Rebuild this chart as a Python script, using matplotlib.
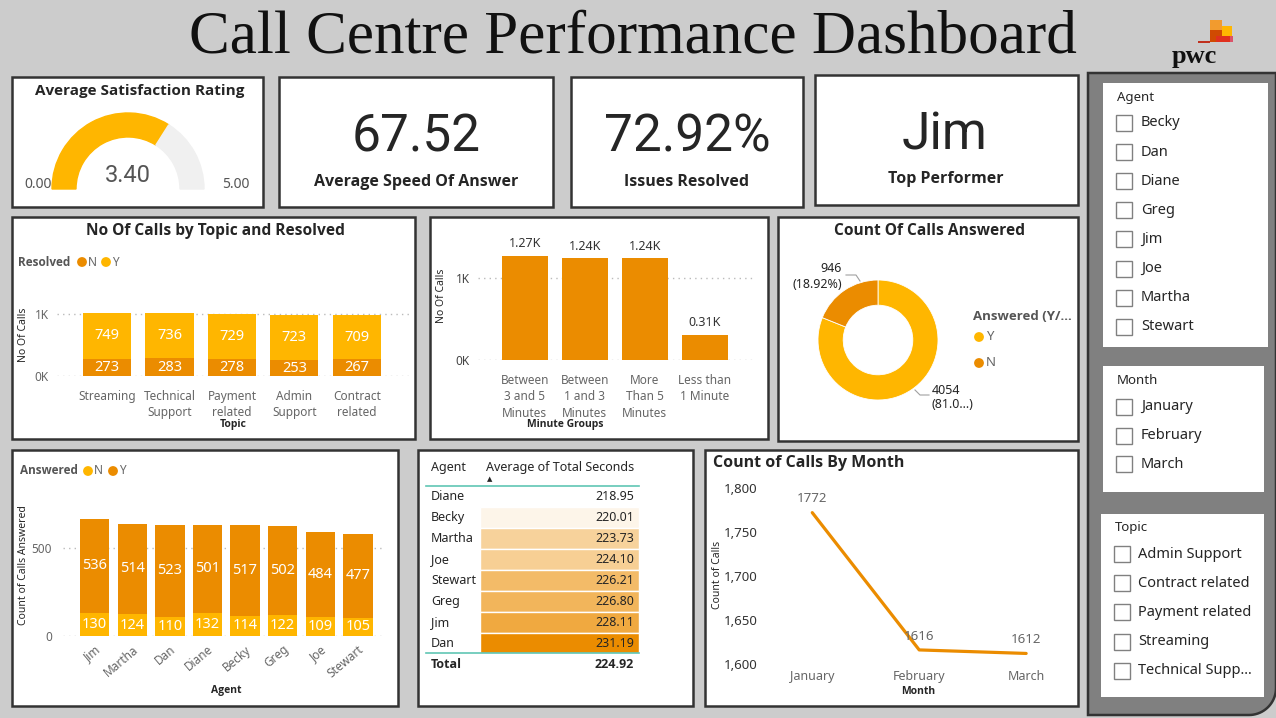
import numpy as np
import matplotlib.pyplot as plt
import matplotlib.font_manager as fm
from matplotlib.patches import Rectangle, Wedge, Polygon

W, H = 1276, 718
plt.rcParams['font.family'] = ['Noto Sans', 'DejaVu Sans']


def bold_family():
    # pick the first sans family that really ships a bold face
    for name in ['Noto Sans', 'Open Sans', 'Lato', 'Roboto', 'Liberation Sans']:
        for f in fm.fontManager.ttflist:
            w = f.weight if isinstance(f.weight, int) else fm.weight_dict.get(f.weight, 400)
            if f.name == name and w >= 600:
                return name
    return 'DejaVu Sans'


BOLD = bold_family()

YELLOW = '#FFB600'
ORANGE = '#EB8C00'
DARK = '#252525'
GREY = '#666666'

# ---- data ----
rating, rating_max = 3.40, 5.00
speed_answer = 67.52
resolved_pct = 72.92
top_performer = 'Jim'

topics = ['Streaming', 'Technical\nSupport', 'Payment\nrelated', 'Admin\nSupport', 'Contract\nrelated']
topic_n = [273, 283, 278, 253, 267]
topic_y = [749, 736, 729, 723, 709]

minute_groups = ['Between\n3 and 5\nMinutes', 'Between\n1 and 3\nMinutes',
                 'More\nThan 5\nMinutes', 'Less than\n1 Minute']
minute_calls = [1270, 1240, 1240, 310]

answered_counts = [4054, 946]   # Y, N

agents = ['Jim', 'Martha', 'Dan', 'Diane', 'Becky', 'Greg', 'Joe', 'Stewart']
agent_n = [130, 124, 110, 132, 114, 122, 109, 105]
agent_y = [536, 514, 523, 501, 517, 502, 484, 477]

table_agents = ['Diane', 'Becky', 'Martha', 'Joe', 'Stewart', 'Greg', 'Jim', 'Dan']
table_secs = [218.95, 220.01, 223.73, 224.10, 226.21, 226.80, 228.11, 231.19]
table_total = 224.92

months = ['January', 'February', 'March']
month_calls = [1772, 1616, 1612]

slicer_agents = ['Becky', 'Dan', 'Diane', 'Greg', 'Jim', 'Joe', 'Martha', 'Stewart']
slicer_months = ['January', 'February', 'March']
slicer_topics = ['Admin Support', 'Contract related', 'Payment related', 'Streaming', 'Technical Supp...']

fig = plt.figure(figsize=(W / 100, H / 100), dpi=100)
fig.patch.set_facecolor('#CCCCCC')


def px_axes(x0, y0, x1, y1):
    # axes placed by pixel box (y measured from the top)
    ax = fig.add_axes([x0 / W, 1 - y1 / H, (x1 - x0) / W, (y1 - y0) / H])
    ax.set_facecolor('none')
    return ax


def pixel_space(ax):
    ax.set_xlim(0, W)
    ax.set_ylim(H, 0)
    ax.axis('off')


bg = px_axes(0, 0, W, H)
pixel_space(bg)


def panel(x0, y0, x1, y1):
    bg.add_patch(Rectangle((x0, y0), x1 - x0, y1 - y0, facecolor='white',
                           edgecolor='#333333', lw=1.8))


for box in [(12, 77, 263, 207), (279, 77, 553, 207), (571, 77, 803, 207), (815, 75, 1078, 205),
            (12, 217, 415, 439), (430, 217, 768, 439), (778, 217, 1078, 441),
            (12, 450, 398, 706), (418, 450, 693, 706), (705, 450, 1078, 706)]:
    panel(*box)

# right filter pane with rounded bottom-right corner
r = 27
t = np.linspace(0, np.pi / 2, 20)
corner = list(zip(1276 - r + r * np.cos(t), 688 + r * np.sin(t)))
bg.add_patch(Polygon([(1088, 73), (1276, 73)] + corner + [(1088, 715)], closed=True,
                     facecolor='#808080', edgecolor='#333333', lw=1.8))
for x0, y0, x1, y1 in [(1103, 83, 1268, 347), (1103, 366, 1264, 492), (1101, 514, 1264, 697)]:
    bg.add_patch(Rectangle((x0, y0), x1 - x0, y1 - y0, facecolor='white', edgecolor='none'))

# pwc logo blocks
for (x0, y0, w, h, c) in [(1210, 20, 12, 10, '#F29B2E'), (1210, 30, 14, 12, '#D04A02'),
                          (1222, 26, 10, 10, '#FFB600'), (1216, 36, 14, 6, '#E0301E'),
                          (1230, 36, 3, 6, '#DB536A'), (1198, 41, 12, 2, '#C0301E')]:
    bg.add_patch(Rectangle((x0, y0), w, h, facecolor=c, edgecolor='none'))

# gauge (y axis is flipped, so 180..360 is the upper half)
split = 180 + 180 * rating / rating_max
bg.add_patch(Wedge((128, 189), 76, 180, split, width=24, color=YELLOW))
bg.add_patch(Wedge((128, 189), 76, split, 360, width=24, color='#F0F0F0'))


def clean(ax):
    for s in ax.spines.values():
        s.set_visible(False)
    ax.tick_params(length=0)


# ---- No of calls by topic and resolved ----
ax = px_axes(57, 300, 410, 376)
x = np.arange(len(topics))
ax.bar(x, topic_n, 0.77, color=ORANGE, zorder=2)
ax.bar(x, topic_y, 0.77, bottom=topic_n, color=YELLOW, zorder=2)
for i in x:
    ax.text(i, topic_n[i] / 2, str(topic_n[i]), ha='center', va='center', color='white', fontsize=10.5, zorder=3)
    ax.text(i, topic_n[i] + topic_y[i] / 2, str(topic_y[i]), ha='center', va='center', color='white',
            fontsize=10.5, zorder=3)
ax.set_xlim(-0.8, 4.85)
ax.set_ylim(0, 1226)
ax.set_yticks([0, 1000], ['0K', '1K'])
ax.set_xticks(x, topics, linespacing=1.35)
ax.yaxis.grid(True, color='#BBBBBB', linestyle=(0, (1, 3)), lw=1)
clean(ax)
ax.tick_params(axis='y', pad=6, labelsize=8.5, labelcolor=GREY)
ax.tick_params(axis='x', pad=10, labelsize=8.5, labelcolor=GREY)

# ---- calls by minute groups ----
ax = px_axes(478, 245, 753, 360)
x = np.arange(len(minute_groups))
ax.bar(x, minute_calls, 0.77, color=ORANGE, zorder=2)
for i in x:
    ax.annotate(f'{minute_calls[i] / 1000:.2f}K', (i, minute_calls[i]), xytext=(0, 4),
                textcoords='offset points', ha='center', va='bottom', fontsize=9, color='#333333')
ax.set_xlim(-0.78, 3.8)
ax.set_ylim(0, 1402)
ax.set_yticks([0, 1000], ['0K', '1K'])
ax.set_xticks(x, minute_groups, linespacing=1.35)
ax.yaxis.grid(True, color='#BBBBBB', linestyle=(0, (1, 3)), lw=1)
clean(ax)
ax.tick_params(axis='y', pad=6, labelsize=8.5, labelcolor='#444444')
ax.tick_params(axis='x', pad=10, labelsize=8.5, labelcolor=GREY)

# ---- donut ----
dax = px_axes(818, 280, 938, 400)
dax.pie(answered_counts, colors=[YELLOW, ORANGE], startangle=90, counterclock=False, radius=1,
        wedgeprops=dict(width=0.42, edgecolor='white', linewidth=0.6))
dax.set_xlim(-1, 1)
dax.set_ylim(-1, 1)

# ---- calls answered by agent ----
ax = px_axes(63, 505, 385, 636)
x = np.arange(len(agents))
ax.bar(x, agent_n, 0.78, color=YELLOW, zorder=2)
ax.bar(x, agent_y, 0.78, bottom=agent_n, color=ORANGE, zorder=2)
for i in x:
    ax.text(i, agent_n[i] / 2, str(agent_n[i]), ha='center', va='center', color='white', fontsize=10.5, zorder=3)
    ax.text(i, agent_n[i] + agent_y[i] / 2, str(agent_y[i]), ha='center', va='center', color='white',
            fontsize=10.5, zorder=3)
ax.set_xlim(-0.84, 7.72)
ax.set_ylim(0, 744)
ax.set_yticks([0, 500])
ax.set_xticks(x, agents, rotation=40, ha='right', rotation_mode='anchor')
ax.yaxis.grid(True, color='#BBBBBB', linestyle=(0, (1, 3)), lw=1)
clean(ax)
ax.tick_params(axis='y', pad=8, labelsize=8.5, labelcolor=GREY)
ax.tick_params(axis='x', pad=5, labelsize=8.5, labelcolor=GREY)
for lbl in ax.get_xticklabels():
    lbl.set_x(lbl.get_position()[0])

# ---- count of calls by month ----
ax = px_axes(762, 488, 1070, 664)
xm = np.arange(len(months))
ax.plot(xm, month_calls, color=ORANGE, lw=2.3, clip_on=False, solid_capstyle='round')
for i in xm:
    ax.annotate(str(month_calls[i]), (i, month_calls[i]), xytext=(0, 10), textcoords='offset points',
                ha='center', va='center', fontsize=9.5, color=GREY)
ax.set_xlim(-0.47, 2.41)
ax.set_ylim(1600, 1800)
ax.set_yticks(range(1600, 1801, 50), [f'{v:,}' for v in range(1600, 1801, 50)])
ax.set_xticks(xm, months)
clean(ax)
ax.tick_params(axis='y', pad=3, labelsize=9.5, labelcolor='#333333')
ax.tick_params(axis='x', pad=4, labelsize=9, labelcolor=GREY)

# ---- overlay: text, legends, table, slicers ----
ov = px_axes(0, 0, W, H)
pixel_space(ov)


def txt(x, y, s, size=10, color=DARK, bold=False, ha='center', va='center', **kw):
    if bold:
        kw.setdefault('family', BOLD)
        kw['fontweight'] = 'bold'
    ov.text(x, y, s, fontsize=size, color=color, ha=ha, va=va, **kw)


def dot(x, y, c):
    ov.scatter([x], [y], s=50, color=c, edgecolors='none')


txt(633, 38, 'Call Centre Performance Dashboard', size=44, family='Liberation Serif', color='#111111')
txt(1194, 56, 'pwc', size=19, family='Liberation Serif', bold=True, color='#111111')

txt(140, 91, 'Average Satisfaction Rating', size=11, bold=True)
txt(128, 176, f'{rating:.2f}', size=17, color='#555555', family='Roboto')
txt(38, 184, '0.00', size=10, color='#555555')
txt(236, 184, f'{rating_max:.2f}', size=10, color='#555555')

txt(416, 138, f'{speed_answer:.2f}', size=37, family='Roboto')
txt(416, 182, 'Average Speed Of Answer', size=11.5, bold=True)
txt(687, 138, f'{resolved_pct:.2f}%', size=37, family='Roboto')
txt(687, 182, 'Issues Resolved', size=11.5, bold=True)
txt(945, 136, top_performer, size=37, family='Roboto')
txt(946, 179, 'Top Performer', size=11.5, bold=True)

# topic chart labels
txt(215, 231, 'No Of Calls by Topic and Resolved', size=11.2, bold=True)
txt(18, 262, 'Resolved', size=8.5, bold=True, color='#555555', ha='left')
dot(82, 262, ORANGE)
txt(88, 262, 'N', size=8.5, color=GREY, ha='left')
dot(106, 262, YELLOW)
txt(112, 262, 'Y', size=8.5, color=GREY, ha='left')
txt(23, 335, 'No Of Calls', size=7.5, rotation=90)
txt(233, 425, 'Topic', size=7.5, bold=True)

# minute chart labels
txt(442, 296, 'No Of Calls', size=7.5, rotation=90)
txt(565, 425, 'Minute Groups', size=7.5, bold=True)

# donut labels
total_calls = sum(answered_counts)
y_pct = answered_counts[0] / total_calls * 100
n_pct = answered_counts[1] / total_calls * 100
txt(930, 231, 'Count Of Calls Answered', size=11.2, bold=True)
txt(842, 269, str(answered_counts[1]), size=9, ha='right')
txt(842, 284, f'({n_pct:.2f}%)', size=9, ha='right')
ov.plot([860, 856, 846], [281, 275, 275], color='#A0A0A0', lw=0.8)
txt(932, 390, str(answered_counts[0]), size=9, ha='left')
txt(932, 404, f'({y_pct:.2f}%)'[:5] + '...)', size=9, ha='left')
ov.plot([915, 920, 929], [390, 395, 395], color='#A0A0A0', lw=0.8)
txt(973, 316, 'Answered (Y/...', size=9.5, bold=True, color='#555555', ha='left')
dot(979, 337, YELLOW)
txt(986, 337, 'Y', size=9.5, color=GREY, ha='left')
dot(979, 363, ORANGE)
txt(986, 363, 'N', size=9.5, color=GREY, ha='left')

# agent chart labels
txt(20, 471, 'Answered', size=8.5, bold=True, color='#555555', ha='left')
dot(88, 471, YELLOW)
txt(94, 471, 'N', size=8.5, color=GREY, ha='left')
dot(113, 471, ORANGE)
txt(119, 471, 'Y', size=8.5, color=GREY, ha='left')
txt(24, 565, 'Count of Calls Answered', size=7.5, rotation=90)
txt(226, 690, 'Agent', size=7.5, bold=True)

# month chart labels
txt(713, 463, 'Count of Calls By Month', size=11.5, bold=True, ha='left')
txt(717, 575, 'Count of Calls', size=7.5, rotation=90)
txt(918, 692, 'Month', size=7.5, bold=True)

# table
txt(431, 468, 'Agent', size=9, ha='left')
txt(486, 468, 'Average of Total Seconds', size=9, ha='left')
txt(490, 479, '\u25B2', size=5, family='DejaVu Sans')
ov.plot([426, 639], [486, 486], color='#60C6B4', lw=1.2)
lo, hi = min(table_secs), max(table_secs)
white = np.array([1.0, 1.0, 1.0])
orange_rgb = np.array([235, 140, 0]) / 255
row_h = 20.86
for i, (name, v) in enumerate(zip(table_agents, table_secs)):
    y = 497 + i * row_h
    f = (v - lo) / (hi - lo)
    ov.add_patch(Rectangle((480, y - row_h / 2), 159, row_h, facecolor=white * (1 - f) + orange_rgb * f,
                           edgecolor='white', lw=1))
    txt(431, y, name, size=9, ha='left')
    txt(634, y, f'{v:.2f}', size=9, ha='right')
ov.plot([426, 639], [653, 653], color='#60C6B4', lw=1.2)
txt(431, 664, 'Total', size=9, bold=True, ha='left')
txt(634, 664, f'{table_total:.2f}', size=9, bold=True, ha='right')


# slicers
def slicer(title, items, x_box, x_text, y_title, y0, step):
    txt(x_box + 1, y_title, title, size=9.5, ha='left')
    for i, item in enumerate(items):
        y = y0 + i * step
        ov.add_patch(Rectangle((x_box, y - 8), 16, 16, facecolor='white', edgecolor='#808080', lw=1))
        txt(x_text, y, item, size=10.5, ha='left')


slicer('Agent', slicer_agents, 1116, 1141, 97, 123, 29.1)
slicer('Month', slicer_months, 1116, 1141, 380, 407, 28.5)
slicer('Topic', slicer_topics, 1114, 1138, 528, 554, 29.2)

fig.savefig('out.png', dpi=100, facecolor=fig.get_facecolor())
